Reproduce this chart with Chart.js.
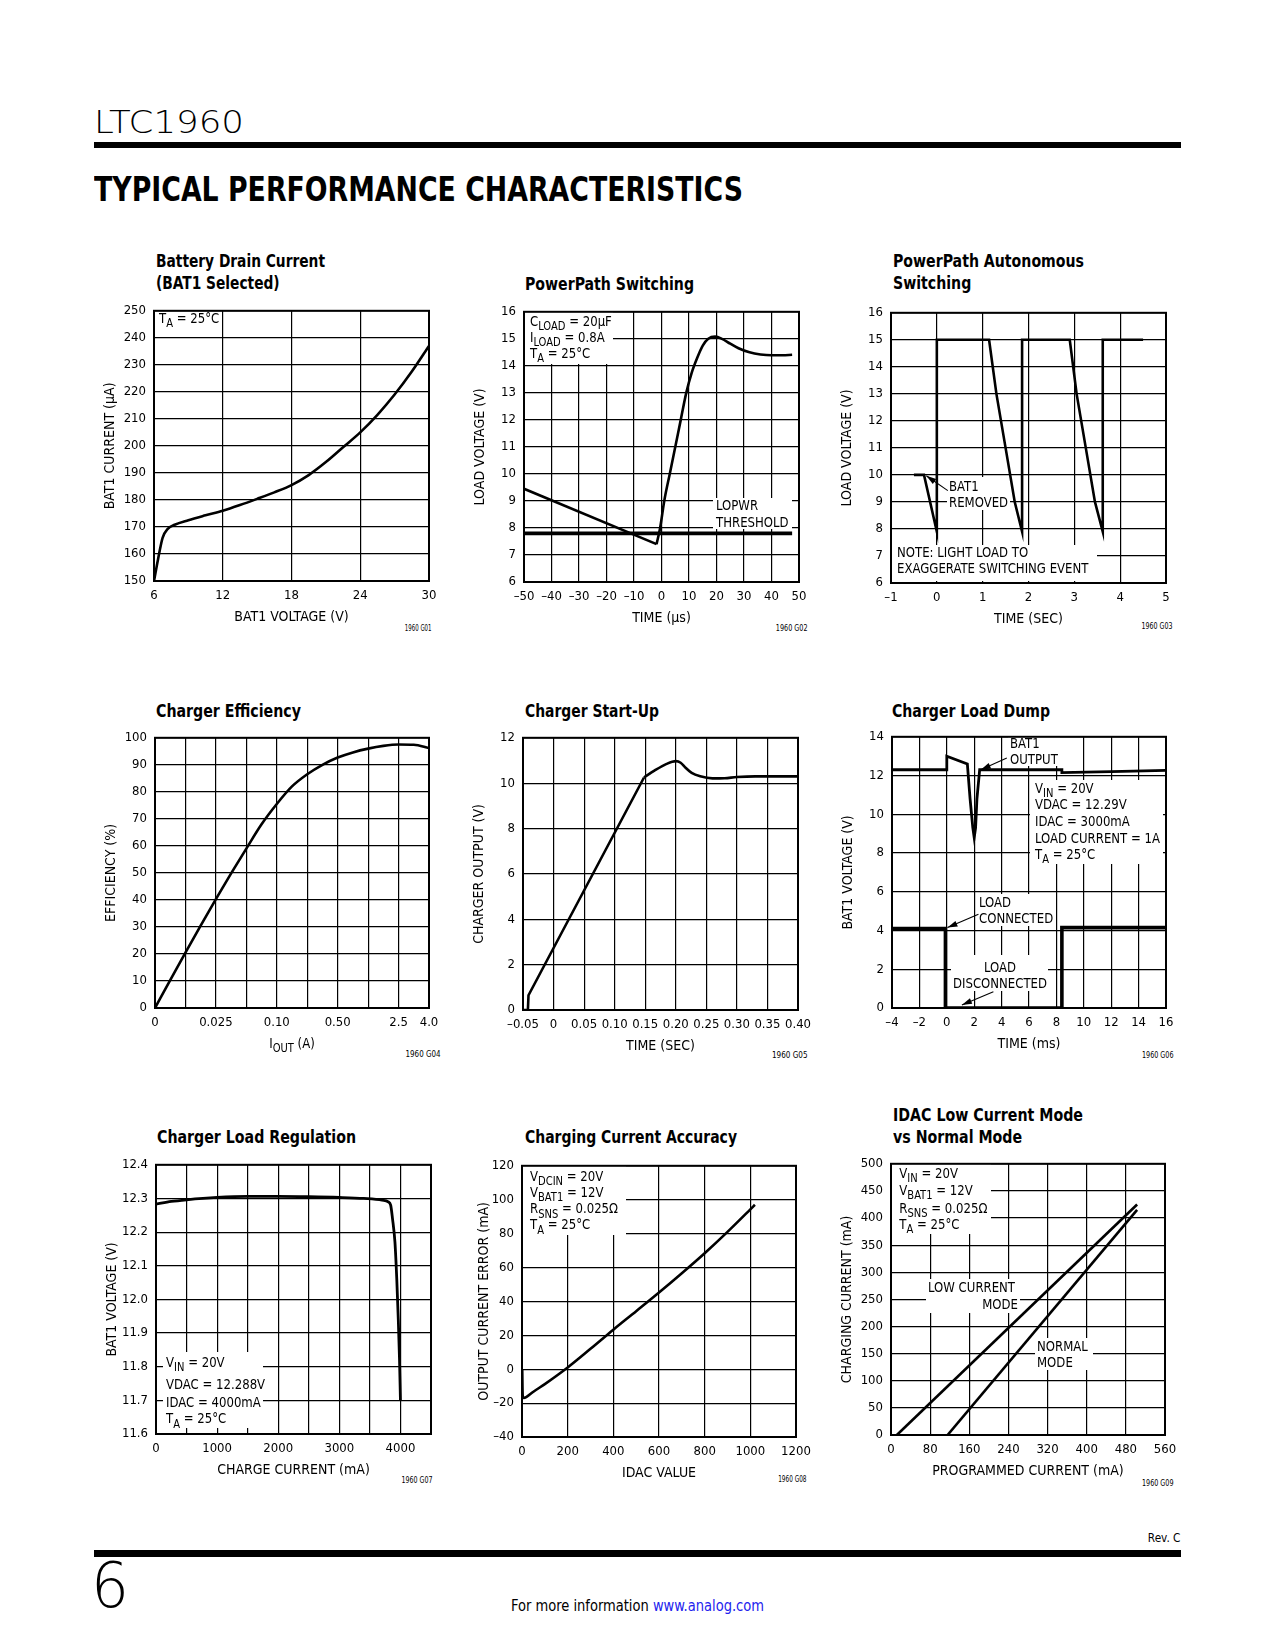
<!DOCTYPE html>
<html>
<head>
<meta charset="utf-8">
<title>LTC1960 Typical Performance Characteristics</title>
<script src="https://cdn.jsdelivr.net/npm/chart.js@4.4.1/dist/chart.umd.min.js"></script>
<style>
  html, body { margin: 0; padding: 0; background: #fff; }
  body { position: relative; width: 1275px; height: 1650px; overflow: hidden; color: #000; }
  .t { position: absolute; white-space: nowrap; line-height: 1.2; }
  .bar { position: absolute; background: #000; }
  canvas { position: absolute; }
  .link { color: #2222ee; }
</style>
</head>
<body>
<div class="bar" style="left:94px;top:142px;width:1087px;height:6px"></div>
<div class="bar" style="left:94px;top:1550px;width:1087px;height:7px"></div>
<script>
// ---- Battery Drain Current (BAT1 Selected) ----
const drainVolt = [6, 6.35, 6.75, 7.2, 7.8, 9, 10.5, 12, 13.5, 15, 16.5, 18, 19.5, 21, 22.5, 24, 25.5, 27, 28.5, 30];
const drainCurr = [150, 158, 166, 169.3, 170.8, 172.5, 174.3, 176, 178.1, 180.4, 182.8, 185.5, 189.2, 194, 199.5, 205, 211.5, 219, 227.5, 237];
const drainXTicks = [6, 12, 18, 24, 30];
const drainYTicks = [150, 160, 170, 180, 190, 200, 210, 220, 230, 240, 250];

// ---- PowerPath Switching ----
const swFallT = [-50, -1.8];
const swFallV = [9.45, 7.4];
const swRiseT = [-1.8, -0.5, 1, 3, 5, 7, 9, 11, 13, 15, 17, 19.5, 22, 25, 28, 32, 36, 40, 44, 47.5];
const swRiseV = [7.4, 8.0, 9.0, 10.0, 11.0, 12.0, 13.0, 13.75, 14.3, 14.75, 15.0, 15.08, 15.0, 14.82, 14.65, 14.5, 14.42, 14.39, 14.39, 14.41];
const lopwrT = [-50, 47.5];
const lopwrV = [7.8, 7.8];
const swXTicks = [-50, -40, -30, -20, -10, 0, 10, 20, 30, 40, 50];
const swXLabels = ['–50', '–40', '–30', '–20', '–10', '0', '10', '20', '30', '40', '50'];
const swYTicks = [6, 7, 8, 9, 10, 11, 12, 13, 14, 15, 16];

// ---- PowerPath Autonomous Switching ----
const autoT = [-0.5, -0.28, 0, 0, 1.14, 1.3, 1.5, 1.7, 1.86, 1.86, 2.9, 3.05, 3.25, 3.45, 3.62, 3.62, 4.5];
const autoV = [10, 10, 7.9, 15, 15, 13, 11, 9, 7.9, 15, 15, 13, 11, 9, 7.9, 15, 15];
const autoXTicks = [-1, 0, 1, 2, 3, 4, 5];
const autoXLabels = ['–1', '0', '1', '2', '3', '4', '5'];
const autoYTicks = [6, 7, 8, 9, 10, 11, 12, 13, 14, 15, 16];

// ---- Charger Efficiency (x in grid divisions of the scale) ----
const effPos = [0, 0.5, 1, 1.5, 2, 2.5, 3, 3.5, 4, 4.5, 5, 5.5, 6, 6.5, 7, 7.5, 8, 8.5, 9];
const effPct = [0, 10.3, 20.5, 30.5, 40.3, 49.8, 59, 68, 75.5, 82, 86.5, 90, 92.7, 94.6, 96, 97, 97.5, 97.4, 96.2];
const effXTicks = [0, 1, 2, 3, 4, 5, 6, 7, 8, 9];
const effXLabels = ['0', '', '0.025', '', '0.10', '', '0.50', '', '2.5', '4.0'];
const effYTicks = [0, 10, 20, 30, 40, 50, 60, 70, 80, 90, 100];

// ---- Charger Start-Up ----
const rampT = [-0.05, -0.042, -0.041, 0.148];
const rampV = [0, 0, 0.65, 10.25];
const settleT = [0.148, 0.165, 0.185, 0.2, 0.208, 0.216, 0.226, 0.24, 0.26, 0.28, 0.3, 0.33, 0.36, 0.4];
const settleV = [10.25, 10.55, 10.85, 10.97, 10.9, 10.68, 10.45, 10.3, 10.21, 10.22, 10.27, 10.3, 10.3, 10.3];
const startXTicks = [-0.05, 0, 0.05, 0.1, 0.15, 0.2, 0.25, 0.3, 0.35, 0.4];
const startXLabels = ['–0.05', '0', '0.05', '0.10', '0.15', '0.20', '0.25', '0.30', '0.35', '0.40'];
const startYTicks = [0, 2, 4, 6, 8, 10, 12];

// ---- Charger Load Dump ----
const dumpBatT = [-4, 0, 0, 1.5, 1.7, 1.9, 2.0, 2.1, 2.2, 2.4, 8.4, 8.4, 12, 16];
const dumpBatV = [12.3, 12.3, 13.0, 12.6, 10.8, 9.3, 8.8, 9.3, 10.8, 12.3, 12.3, 12.15, 12.2, 12.27];
const dumpLoadT = [-4, -0.1, -0.1, 8.4, 8.4, 16];
const dumpLoadV = [4.1, 4.1, 0, 0, 4.15, 4.15];
const dumpXTicks = [-4, -2, 0, 2, 4, 6, 8, 10, 12, 14, 16];
const dumpXLabels = ['–4', '–2', '0', '2', '4', '6', '8', '10', '12', '14', '16'];
const dumpYTicks = [0, 2, 4, 6, 8, 10, 12, 14];

// ---- Charger Load Regulation ----
const regCurr = [0, 250, 500, 1000, 1500, 2000, 2500, 3000, 3400, 3700, 3800, 3840, 3870, 3910, 3940, 3965, 3985, 4000];
const regVolt = [12.283, 12.291, 12.296, 12.303, 12.306, 12.306, 12.305, 12.303, 12.3, 12.295, 12.29, 12.28, 12.24, 12.17, 12.06, 11.94, 11.82, 11.7];
const regXTicks = [0, 500, 1000, 1500, 2000, 2500, 3000, 3500, 4000, 4500];
const regXLabels = ['0', '', '1000', '', '2000', '', '3000', '', '4000', ''];
const regYTicks = [11.6, 11.7, 11.8, 11.9, 12.0, 12.1, 12.2, 12.3, 12.4];
const regYLabels = ['11.6', '11.7', '11.8', '11.9', '12.0', '12.1', '12.2', '12.3', '12.4'];

// ---- Charging Current Accuracy ----
const accIdac = [1, 3, 8, 20, 50, 100, 200, 300, 400, 500, 600, 700, 800, 900, 1000, 1020];
const accErr = [0, -15.5, -17, -16.3, -13.3, -8.8, 1, 12, 23.3, 34.2, 45.2, 56.6, 68.4, 81, 94.3, 97];
const accXTicks = [0, 200, 400, 600, 800, 1000, 1200];
const accYTicks = [-40, -20, 0, 20, 40, 60, 80, 100, 120];
const accYLabels = ['–40', '–20', '0', '20', '40', '60', '80', '100', '120'];

// ---- IDAC Low Current Mode vs Normal Mode ----
const lowProg = [12, 503];
const lowChg = [0, 425];
const normProg = [115.6, 503];
const normChg = [0, 415];
const idacXTicks = [0, 80, 160, 240, 320, 400, 480, 560];
const idacYTicks = [0, 50, 100, 150, 200, 250, 300, 350, 400, 450, 500];

// ---------------------------------------------------------------
function pickNarrow() {
  const c = document.createElement('canvas').getContext('2d');
  const probe = 'BAT1 VOLTAGE (V) 0123456789 mA';
  c.font = '20px monospace';
  const base = c.measureText(probe).width;
  for (const f of ['Liberation Sans Narrow', 'Arial Narrow', 'DejaVu Sans Condensed']) {
    c.font = '20px "' + f + '", monospace';
    if (Math.abs(c.measureText(probe).width - base) > 1) return f;
  }
  return 'Liberation Sans';
}
const NARROW = pickNarrow();
const FAM = '"' + NARROW + '", sans-serif';

// horizontal squeeze for drawn notes so they match the condensed face
const SX = (function () {
  const c = document.createElement('canvas').getContext('2d');
  c.font = '14px ' + FAM;
  return Math.min(1, 125 / c.measureText('LOAD CURRENT = 1A').width);
})();

function addText(html, x, base, o) {
  o = o || {};
  const el = document.createElement('div');
  el.className = 't';
  el.style.fontFamily = o.family || FAM;
  el.style.fontSize = (o.size || 14) + 'px';
  el.style.fontWeight = o.weight || 400;
  el.innerHTML = html;
  document.body.appendChild(el);
  const probe = document.createElement('span');
  probe.style.cssText = 'display:inline-block;width:0;height:0;vertical-align:baseline';
  el.appendChild(probe);
  const off = probe.offsetTop;
  const w = el.getBoundingClientRect().width;
  const s = o.scale || (o.width ? o.width / w : 1);
  const align = o.align || 'left';
  let left = x;
  if (align === 'right') left = x - w;
  else if (align === 'center') left = x - w / 2;
  el.style.left = left + 'px';
  el.style.top = (base - off) + 'px';
  el.style.transformOrigin = align;
  el.style.transform = 'scaleX(' + s + ')';
  return s;
}

function rich(c, str, x, y, align, size, sx) {
  const parts = str.split(/(_\{[^}]*\})/).filter(Boolean)
    .map(p => p.startsWith('_{') ? [p.slice(2, -1), true] : [p, false]);
  const fMain = size + 'px ' + FAM, fSub = (size * 0.85) + 'px ' + FAM;
  let w = 0;
  parts.forEach(p => { c.font = p[1] ? fSub : fMain; w += c.measureText(p[0]).width; });
  c.save();
  c.translate(x, y);
  c.scale(sx, 1);
  c.textAlign = 'left';
  c.textBaseline = 'alphabetic';
  let cx = align === 'right' ? -w : align === 'center' ? -w / 2 : 0;
  parts.forEach(p => {
    c.font = p[1] ? fSub : fMain;
    c.fillText(p[0], cx, p[1] ? size * 0.3 : 0);
    cx += c.measureText(p[0]).width;
  });
  c.restore();
}

function arrow(c, x1, y1, x2, y2) {
  c.beginPath(); c.moveTo(x1, y1); c.lineTo(x2, y2); c.stroke();
  const a = Math.atan2(y2 - y1, x2 - x1), L = 10, W = 3;
  c.beginPath();
  c.moveTo(x2, y2);
  c.lineTo(x2 - L * Math.cos(a) + W * Math.sin(a), y2 - L * Math.sin(a) - W * Math.cos(a));
  c.lineTo(x2 - L * Math.cos(a) - W * Math.sin(a), y2 - L * Math.sin(a) + W * Math.cos(a));
  c.closePath(); c.fill();
}

function makeNotes(n, ox, oy) {
  return {
    id: 'notes',
    beforeDatasetsDraw(chart) {
      const c = chart.ctx, a = chart.chartArea;
      c.save();
      c.fillStyle = '#fff';
      (n.masks || []).forEach(m => c.fillRect(m[0] - ox, m[1] - oy, m[2] - m[0], m[3] - m[1]));
      c.strokeStyle = '#000';
      c.lineWidth = 2;
      c.strokeRect(a.left, a.top, a.right - a.left, a.bottom - a.top);
      c.restore();
    },
    afterDatasetsDraw(chart) {
      const c = chart.ctx, xs = chart.scales.x, ys = chart.scales.y;
      c.save();
      c.strokeStyle = '#000'; c.fillStyle = '#000'; c.lineWidth = 1.1;
      (n.arrows || []).forEach(r => arrow(c,
        xs.getPixelForValue(r[0]), ys.getPixelForValue(r[1]),
        xs.getPixelForValue(r[2]), ys.getPixelForValue(r[3])));
      (n.texts || []).forEach(t => rich(c, t[2], t[0] - ox, t[1] - oy, t[3] || 'left', 14, SX));
      c.restore();
    }
  };
}

const AXW = 70, AXH = 50, PADT = 12, PADR = 24;

function axis(ticks, labels, title, isX, titlePad) {
  labels = labels || ticks.map(String);
  return {
    type: 'linear',
    min: ticks[0],
    max: ticks[ticks.length - 1],
    afterBuildTicks: s => { s.ticks = ticks.map(v => ({ value: v })); },
    afterFit: s => { if (isX) s.height = AXH; else s.width = AXW; },
    grid: { color: '#000', lineWidth: 1.2, drawTicks: false },
    border: { display: false },
    ticks: {
      autoSkip: false, maxRotation: 0, minRotation: 0,
      padding: isX ? 7 : 8, color: '#000',
      font: { family: FAM, size: 13 },
      callback: (v, i) => labels[i]
    },
    title: {
      display: !!title, text: title || '', color: '#000',
      font: { family: FAM, size: 14 },
      padding: isX ? { top: 0, bottom: 5.6 } : { top: titlePad || 18, bottom: 0 }
    }
  };
}

function series(xs, ys, o) {
  return Object.assign({
    data: xs.map((x, i) => ({ x: x, y: ys[i] })),
    showLine: true, borderColor: '#000', borderWidth: 2.6,
    pointRadius: 0, fill: false, tension: 0
  }, o || {});
}

function plot(r, xAx, yAx, datasets, notes) {
  const ox = r[0] - AXW, oy = r[1] - PADT;
  const cv = document.createElement('canvas');
  cv.width = r[2] - r[0] + AXW + PADR;
  cv.height = r[3] - r[1] + PADT + AXH;
  cv.style.left = ox + 'px';
  cv.style.top = oy + 'px';
  document.body.appendChild(cv);
  new Chart(cv, {
    type: 'scatter',
    data: { datasets: datasets },
    options: {
      responsive: false, animation: false, events: [],
      layout: { padding: { left: 0, top: PADT, right: PADR, bottom: 0 } },
      plugins: { legend: { display: false }, tooltip: { enabled: false } },
      scales: { x: xAx, y: yAx }
    },
    plugins: [makeNotes(notes || {}, ox, oy)]
  });
}

// ---------------- page text ----------------
addText('LTC1960', 93.5, 133, { family: '"DejaVu Sans", sans-serif', weight: 200, size: 32, width: 150 });
addText('TYPICAL PERFORMANCE CHARACTERISTICS', 93.5, 201, { family: '"DejaVu Sans", sans-serif', weight: 700, size: 33, width: 649 });

const titles = [
  [['Battery Drain Current', '(BAT1 Selected)'], 156, [266.7, 288.5], 169],
  [['PowerPath Switching'], 525, [290], 169],
  [['PowerPath Autonomous', 'Switching'], 893, [266.7, 288.5], 191],
  [['Charger Efficiency'], 156, [716.5], 145],
  [['Charger Start-Up'], 525, [716.5], 134],
  [['Charger Load Dump'], 892, [716.5], 158],
  [['Charger Load Regulation'], 157, [1143.3], 199],
  [['Charging Current Accuracy'], 525, [1143.3], 212],
  [['IDAC Low Current Mode', 'vs Normal Mode'], 893, [1120.5, 1143.3], 190]
];
titles.forEach(t => {
  const s = addText(t[0][0], t[1], t[2][0], { weight: 700, size: 18.5, width: t[3] });
  for (let i = 1; i < t[0].length; i++) addText(t[0][i], t[1], t[2][i], { weight: 700, size: 18.5, scale: s });
});

const figIds = [
  ['1960 G01', 431.7, 631, 26.7], ['1960 G02', 807.7, 630.5, 31.7], ['1960 G03', 1172.7, 629.3, 31],
  ['1960 G04', 441, 1057, 35], ['1960 G05', 807.3, 1057.5, 35.6], ['1960 G06', 1173.3, 1058, 31.6],
  ['1960 G07', 432.7, 1482.5, 31], ['1960 G08', 806.7, 1481.5, 28.4], ['1960 G09', 1173.3, 1486, 31.6]
];
figIds.forEach(f => addText(f[0], f[1], f[2], { size: 8.5, width: f[3], align: 'right' }));

addText('Rev. C', 1180.5, 1541.7, { size: 12, width: 32.6, align: 'right' });
addText('6', 91, 1607, { family: '"DejaVu Sans", sans-serif', weight: 200, size: 62, width: 38 });
addText('For more information <span class="link">www.analog.com</span>', 511, 1611, { size: 16, width: 253 });

// ---------------- charts ----------------
Chart.defaults.color = '#000';

plot([154, 307, 429, 581],
  axis(drainXTicks, null, 'BAT1 VOLTAGE (V)', true),
  axis(drainYTicks, null, 'BAT1 CURRENT (μA)', false),
  [series(drainVolt, drainCurr, { cubicInterpolationMode: 'monotone' })],
  { texts: [[159, 323, 'T_{A} = 25°C']] });

plot([524, 308, 799, 582],
  axis(swXTicks, swXLabels, 'TIME (μs)', true),
  axis(swYTicks, null, 'LOAD VOLTAGE (V)', false),
  [series(lopwrT, lopwrV, { borderWidth: 3.6 }),
   series(swFallT, swFallV),
   series(swRiseT, swRiseV, { cubicInterpolationMode: 'monotone' })],
  { masks: [[525, 309, 613, 364], [713, 498, 792, 529]],
    texts: [[530, 326, 'C_{LOAD} = 20μF'], [530, 342, 'I_{LOAD} = 0.8A'], [530, 357.5, 'T_{A} = 25°C'],
            [716, 510, 'LOPWR'], [716, 527, 'THRESHOLD']] });

plot([891, 309, 1166, 583],
  axis(autoXTicks, autoXLabels, 'TIME (SEC)', true),
  axis(autoYTicks, null, 'LOAD VOLTAGE (V)', false),
  [series(autoT, autoV)],
  { masks: [[947, 477, 1010, 510], [892, 545, 1097, 581]],
    texts: [[949, 491, 'BAT1'], [949, 507, 'REMOVED'],
            [897, 557, 'NOTE: LIGHT LOAD TO'], [897, 573, 'EXAGGERATE SWITCHING EVENT']],
    arrows: [[0.24, 9.42, -0.23, 9.97]] });

plot([155, 734, 429, 1008],
  axis(effXTicks, effXLabels, '', true),
  axis(effYTicks, null, 'EFFICIENCY (%)', false),
  [series(effPos, effPct, { cubicInterpolationMode: 'monotone' })],
  { texts: [[292, 1048, 'I_{OUT} (A)', 'center']] });

plot([523, 734, 798, 1010],
  axis(startXTicks, startXLabels, 'TIME (SEC)', true),
  axis(startYTicks, null, 'CHARGER OUTPUT (V)', false),
  [series(rampT, rampV),
   series(settleT, settleV, { cubicInterpolationMode: 'monotone' })]);

plot([892, 733, 1166, 1008],
  axis(dumpXTicks, dumpXLabels, 'TIME (ms)', true),
  axis(dumpYTicks, null, 'BAT1 VOLTAGE (V)', false),
  [series(dumpBatT, dumpBatV, { borderWidth: 2.8 }),
   series(dumpLoadT, dumpLoadV, { borderWidth: 3.6 })],
  { masks: [[1008, 734, 1060, 766], [1030, 780, 1163, 864], [977, 894, 1052, 926], [951, 955, 1048, 991]],
    texts: [[1010, 748, 'BAT1'], [1010, 764, 'OUTPUT'],
            [1035, 793, 'V_{IN} = 20V'], [1035, 809, 'VDAC = 12.29V'], [1035, 826, 'IDAC = 3000mA'],
            [1035, 843, 'LOAD CURRENT = 1A'], [1035, 858.5, 'T_{A} = 25°C'],
            [979, 907, 'LOAD'], [979, 923, 'CONNECTED'],
            [1000, 972, 'LOAD', 'center'], [1000, 988, 'DISCONNECTED', 'center']],
    arrows: [[4.38, 12.9, 2.48, 12.3], [2.31, 4.84, 0.05, 4.15], [3.4, 0.84, 1.1, 0.16]] });

plot([156, 1161, 431, 1434],
  axis(regXTicks, regXLabels, 'CHARGE CURRENT (mA)', true),
  axis(regYTicks, regYLabels, 'BAT1 VOLTAGE (V)', false),
  [series(regCurr, regVolt, { cubicInterpolationMode: 'monotone', borderWidth: 2.8 })],
  { masks: [[163, 1352, 263, 1428]],
    texts: [[166, 1366.7, 'V_{IN} = 20V'], [166, 1389.3, 'VDAC = 12.288V'],
            [166, 1406.7, 'IDAC = 4000mA'], [166, 1423.3, 'T_{A} = 25°C']] });

plot([522, 1162, 796, 1437],
  axis(accXTicks, null, 'IDAC VALUE', true),
  axis(accYTicks, accYLabels, 'OUTPUT CURRENT ERROR (mA)', false, 24),
  [series(accIdac, accErr, { cubicInterpolationMode: 'monotone' })],
  { masks: [[523, 1163, 626, 1235]],
    texts: [[530, 1181, 'V_{DCIN} = 20V'], [530, 1197, 'V_{BAT1} = 12V'],
            [530, 1213.3, 'R_{SNS} = 0.025Ω'], [530, 1229.3, 'T_{A} = 25°C']] });

plot([891, 1160, 1165, 1435],
  axis(idacXTicks, null, 'PROGRAMMED CURRENT (mA)', true),
  axis(idacYTicks, null, 'CHARGING CURRENT (mA)', false),
  [series(lowProg, lowChg), series(normProg, normChg)],
  { masks: [[892, 1161, 991, 1234], [926, 1279, 1020, 1313], [1035, 1338, 1093, 1370]],
    texts: [[899.3, 1177.7, 'V_{IN} = 20V'], [899.3, 1195, 'V_{BAT1} = 12V'],
            [899.3, 1212.7, 'R_{SNS} = 0.025Ω'], [899.3, 1229, 'T_{A} = 25°C'],
            [928, 1292, 'LOW CURRENT'], [1018, 1309, 'MODE', 'right'],
            [1037, 1351, 'NORMAL'], [1037, 1367, 'MODE']] });
</script>
</body>
</html>
